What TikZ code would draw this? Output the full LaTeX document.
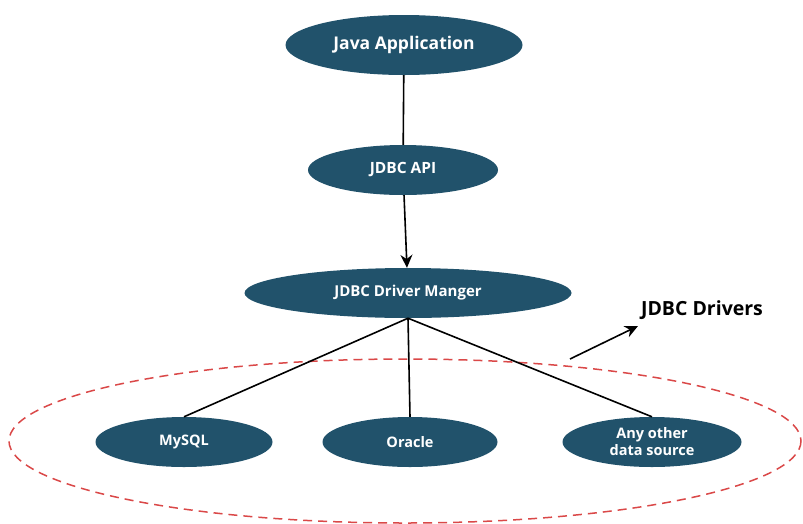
\documentclass[tikz,border=0pt]{standalone}
\usepackage{fontspec}
\setmainfont{Open Sans}
\usepackage{xcolor}
\usetikzlibrary{shapes.geometric}
\usetikzlibrary{arrows.meta}

\definecolor{jdbcblue}{RGB}{33,82,107}
\definecolor{dashred}{RGB}{218,72,72}

\begin{document}
\begin{tikzpicture}[x=1pt,y=-1pt,
  layer/.style n args={3}{ellipse, fill=jdbcblue, text=white, inner sep=0pt,
    minimum width=#1, minimum height=#2, align=center,
    font=\bfseries\fontsize{#3}{17}\selectfont},
  link/.style={black, line width=1.6pt},
  tip/.style={-{Stealth[length=13pt, width=12pt]}}]

\useasboundingbox (0,0) rectangle (803,523);

% group of drivers
\draw[dashred, line width=1.5pt, dash pattern=on 9pt off 6pt] (405,441) ellipse [x radius=396, y radius=82];

% layers
\node[layer={237pt}{60pt}{17.5}] (app) at (404,45) {Java Application};
\node[layer={190pt}{50pt}{15.5}] (api) at (403,170) {JDBC API};
\node[layer={327pt}{50pt}{15}] (mgr) at (408,293) {JDBC Driver Manger};

% drivers
\node[layer={177pt}{50pt}{14.5}] (mysql) at (184,442) {MySQL};
\node[layer={175pt}{50pt}{14.5}] (oracle) at (410,442) {Oracle};
\node[layer={179pt}{50pt}{14.5}] (other) at (652,442) {Any other\\data source};

\node[font=\bfseries\fontsize{19.5}{22}\selectfont] (drivers) at (702,310) {JDBC Drivers};

% connectors
\draw[link] (app) -- (api);
\draw[link, tip] (api) -- (mgr);
\draw[link] (mgr.south) -- (mysql.north);
\draw[link] (mgr.south) -- (oracle.north);
\draw[link] (mgr.south) -- (other.north);

\coordinate (tail) at (570,359);
\coordinate (head) at (638,326);
\draw[link, tip] (tail) -- (head);

\end{tikzpicture}
\end{document}
